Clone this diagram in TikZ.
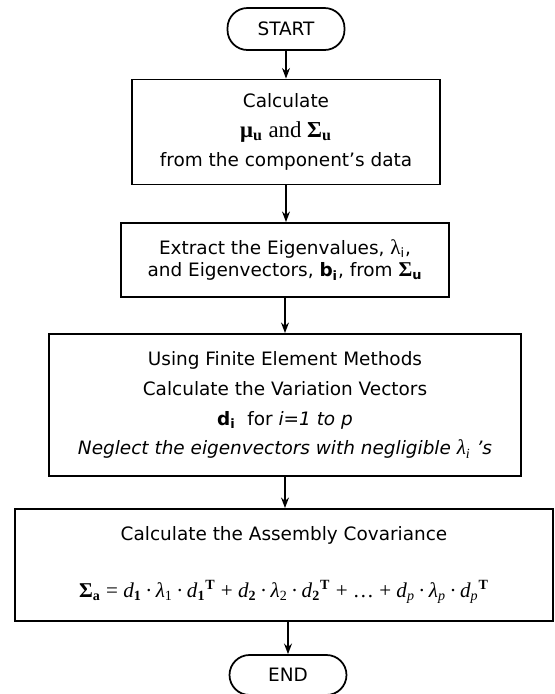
\documentclass[tikz,border=0pt]{standalone}
\usepackage{fontspec}
\setmainfont{DejaVu Sans}
\newfontfamily\tms{Liberation Serif}
\usetikzlibrary{arrows.meta}

% one term d.lambda.d^T of the sum
\newcommand{\dterm}[2]{\textit{d}\textsubscript{#1}\,·\,\textit{λ}\textsubscript{#2}\,·\,\textit{d}\textsubscript{#1}\textsuperscript{\textbf{T}}}

\begin{document}
\begin{tikzpicture}[
    x=0.02cm, y=-0.02cm,
    term/.style={draw, line width=1pt, rounded corners=0.4cm, minimum width=2.34cm, minimum height=#1, inner sep=0pt, font=\fontsize{10.5}{12}\selectfont},
    procbox/.style={draw, line width=1.1pt, align=center, inner sep=0pt, font=\fontsize{10.5}{17}\selectfont},
    >={Stealth[length=6pt, width=4.5pt]}
]
    \useasboundingbox (0,0) rectangle (555,694);

    % Terminals
    \node[term=0.84cm] (start) at (286, 29) {START};
    \node[term=0.80cm] (stop) at (288, 675) {END};

    % Process boxes
    \node[procbox, minimum width=6.16cm, minimum height=2.1cm] (calc) at (286, 132)
        {Calculate\\
         {\tms\fontsize{13}{13}\selectfont\bfseries μ\textsubscript{u} \mdseries and \bfseries Σ\textsubscript{u}}\\
         from the component’s data};
    \node[procbox, minimum width=6.56cm, minimum height=1.48cm, font=\fontsize{10.5}{13}\selectfont] (eigen) at (285, 260)
        {Extract the Eigenvalues, {\tms\fontsize{12}{13}\selectfont λ}\textsubscript{i},\\
         and Eigenvectors, \textbf{b\textsubscript{i}}, from {\tms\fontsize{12}{13}\selectfont\bfseries Σ}\textsubscript{\textbf{u}}};
    \node[procbox, minimum width=9.46cm, minimum height=2.84cm] (fem) at (285, 405)
        {Using Finite Element Methods\\
         Calculate the Variation Vectors\\
         \textbf{d\textsubscript{i}}\ \ for \textit{i=1 to p}\\
         \textit{Neglect the eigenvectors with negligible {\tms\fontsize{12}{13}\selectfont λ\textsubscript{i}} ’s}};
    \node[procbox, minimum width=10.78cm, minimum height=2.24cm] (assem) at (284, 565)
        {Calculate the Assembly Covariance\\[15pt]
         {\tms\fontsize{12}{14}\selectfont \textbf{Σ\textsubscript{a}} = \dterm{\textbf{1}}{1} + \dterm{\textbf{2}}{2} + … + \dterm{\textit{p}}{\textit{p}}}};

    % Connectors
    \draw[->, line width=0.8pt] (start) -- (start |- calc.north);
    \draw[->, line width=0.8pt] (calc) -- (calc |- eigen.north);
    \draw[->, line width=0.8pt] (eigen) -- (eigen |- fem.north);
    \draw[->, line width=0.8pt] (fem) -- (fem |- assem.north);
    \draw[->, line width=0.8pt] (stop |- assem.south) -- (stop);
\end{tikzpicture}
\end{document}
